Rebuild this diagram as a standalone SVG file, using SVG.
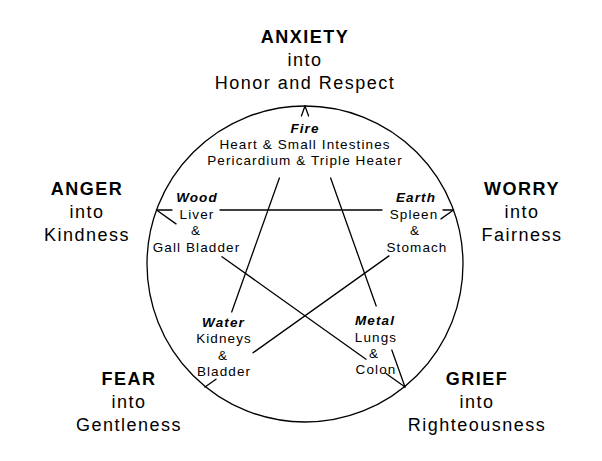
<svg xmlns="http://www.w3.org/2000/svg" width="602" height="461" viewBox="0 0 602 461">
<style>
.bg{fill:#fff}
.ln{stroke:#000;stroke-width:1.3;fill:none;stroke-linecap:round}
.out{font-family:"Liberation Sans",Arial,sans-serif;font-size:18px;letter-spacing:1.5px;text-anchor:middle;fill:#000}
.outb{font-weight:bold}
.in{font-family:"Liberation Sans",Arial,sans-serif;font-size:13.5px;letter-spacing:1.1px;text-anchor:middle;fill:#000}
.el{font-weight:bold;font-style:italic}
</style>
<rect class="bg" width="602" height="461"/>
<g id="connectors">
<circle class="ln" cx="305" cy="264" r="158"/>
<path class="ln" d="M305,106 L301.4,116 M279.4,178 L231.7,312"/>
<path class="ln" d="M305,106 L308.6,116 M330.6,178 L376.2,306 M391.8,350 L405,387"/>
<path class="ln" d="M156.5,210 L172,210 M220,210 L382,210 M443,210 L453.5,210"/>
<path class="ln" d="M156.5,210 L176,223.9 M222,256.7 L366,359.2 M386,373.5 L405,387"/>
<path class="ln" d="M453.5,210 L441,218.9 M389,255.9 L253,352.8 M216,379.2 L205,387"/>
</g>
<g id="anxiety">
<text class="out outb" x="305" y="43">ANXIETY</text>
<text class="out" x="305" y="66">into</text>
<text class="out" x="305" y="89">Honor and Respect</text>
</g>
<g id="anger">
<text class="out outb" x="87" y="195">ANGER</text>
<text class="out" x="87" y="218">into</text>
<text class="out" x="87" y="241">Kindness</text>
</g>
<g id="worry">
<text class="out outb" x="522" y="195">WORRY</text>
<text class="out" x="522" y="218">into</text>
<text class="out" x="522" y="241">Fairness</text>
</g>
<g id="fear">
<text class="out outb" x="129" y="385">FEAR</text>
<text class="out" x="129" y="408">into</text>
<text class="out" x="129" y="431">Gentleness</text>
</g>
<g id="grief">
<text class="out outb" x="477" y="385">GRIEF</text>
<text class="out" x="477" y="408">into</text>
<text class="out" x="477" y="431">Righteousness</text>
</g>
<g id="fire">
<text class="in el" x="305" y="133">Fire</text>
<text class="in" x="305" y="149">Heart &amp; Small Intestines</text>
<text class="in" x="305" y="165">Pericardium &amp; Triple Heater</text>
</g>
<g id="wood">
<text class="in el" x="197" y="202">Wood</text>
<text class="in" x="197" y="219">Liver</text>
<text class="in" x="196" y="235">&amp;</text>
<text class="in" x="196.5" y="252">Gall Bladder</text>
</g>
<g id="earth">
<text class="in el" x="416" y="202">Earth</text>
<text class="in" x="414" y="219">Spleen</text>
<text class="in" x="415" y="235">&amp;</text>
<text class="in" x="417" y="252">Stomach</text>
</g>
<g id="water">
<text class="in el" x="223.5" y="327">Water</text>
<text class="in" x="224" y="343">Kidneys</text>
<text class="in" x="223" y="360">&amp;</text>
<text class="in" x="224" y="376">Bladder</text>
</g>
<g id="metal">
<text class="in el" x="375" y="325">Metal</text>
<text class="in" x="376" y="342">Lungs</text>
<text class="in" x="374" y="358">&amp;</text>
<text class="in" x="376" y="374">Colon</text>
</g>
</svg>
